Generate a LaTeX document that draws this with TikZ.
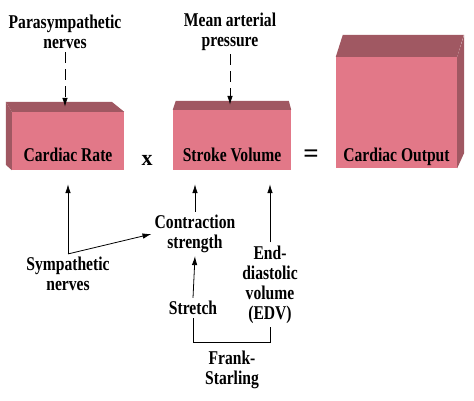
\documentclass[tikz,border=0pt]{standalone}
\usepackage{fontspec}
\setmainfont{Liberation Serif}[FakeStretch=0.8]
\newfontfamily\signes{Liberation Serif}
\usepackage{xcolor}
\usetikzlibrary{arrows.meta, positioning}

\definecolor{rose}{RGB}{226,120,136}
\definecolor{ombre}{RGB}{160,88,98}
\newcommand{\lbl}{\bfseries\fontsize{19.5}{20}\selectfont}

\begin{document}
\begin{tikzpicture}[x=1pt, y=-1pt, on grid,
    boite/.style={fill=rose, inner sep=0pt, font=\lbl},
    face/.style={fill=ombre},
    texte/.style={font=\lbl, align=center, inner sep=3pt},
    signe/.style={font=\signes\bfseries\fontsize{22}{22}\selectfont, anchor=base},
    fleche/.style={-{Latex[length=9pt,width=5.5pt]}, line width=0.8pt},
    montee/.style={fleche, shorten >=14pt},
    pointille/.style={fleche, dash pattern=on 11pt off 6pt}]
        \useasboundingbox[fill=white] (0,0) rectangle (474,401);

        % Boîtes
        \node[boite, minimum width=112pt, text height=50pt, text depth=8pt] (rate) at (68,141) {Cardiac Rate};
        \node[boite, minimum width=118pt, text height=52pt, text depth=8pt] (volume) at (232,140) {Stroke Volume};
        \node[boite, minimum width=121pt, text height=104pt, text depth=7pt] (output) at (396.5,112.5) {Cardiac Output};
        \fill[face] (rate.north west) -- ++(-6,-10) -- ++(106,0) -- (rate.north east) -- cycle;
        \fill[face] (rate.north west) -- ++(-6,-10) -- ++(0,63) -- (rate.south west) -- cycle;
        \fill[face] (volume.north west) -- ++(3,-9) -- ++(113,0) -- (volume.north east) -- cycle;
        \fill[face] (output.north west) -- ++(7,-22) -- ++(121,0) -- (output.north east) -- cycle;
        \fill[face] (output.north east) -- ++(7,-22) -- ++(0,118) -- (output.south east) -- cycle;
        \node[signe] (fois) at (147,165) {x};
        \node[signe, font=\signes\bfseries\fontsize{27}{27}\selectfont] (egal) at (311,163) {=};

        % Textes
        \node[texte] (para) at (65,32) {Parasympathetic\\nerves};
        \node[texte] (mean) at (230,32) {Mean arterial\\pressure};
        \node[texte] (symp) at (68,274) {Sympathetic\\nerves};
        \node[texte] (contr) at (195,234) {Contraction\\strength};
        \node[texte] (stretch) [below=74pt of contr, xshift=-2pt] {Stretch};
        \node[texte] (edv) at (270,284.5) {End-\\diastolic\\volume\\(EDV)};
        \node[texte] (frank) at (232,369.5) {Frank-\\Starling};

        % Flèches
        \draw[pointille] (para.south) -- ([yshift=5pt]para.south |- rate.north);
        \draw[pointille] (mean.south) -- ([yshift=5pt]mean.south |- volume.north);
        \draw[montee] (symp.north) -- (symp.north |- rate.south);
        \draw[fleche] (symp.north) -- (contr.west);
        \draw[montee] (contr.north) -- (contr.north |- volume.south);
        \draw[fleche] (stretch.north) -- (contr.south);
        \draw[montee] (edv.north) -- (edv.north |- volume.south);
        \draw[line width=0.8pt] (stretch.south) |- ([yshift=5pt]frank.north) -| (edv.south);
    \end{tikzpicture}
\end{document}
